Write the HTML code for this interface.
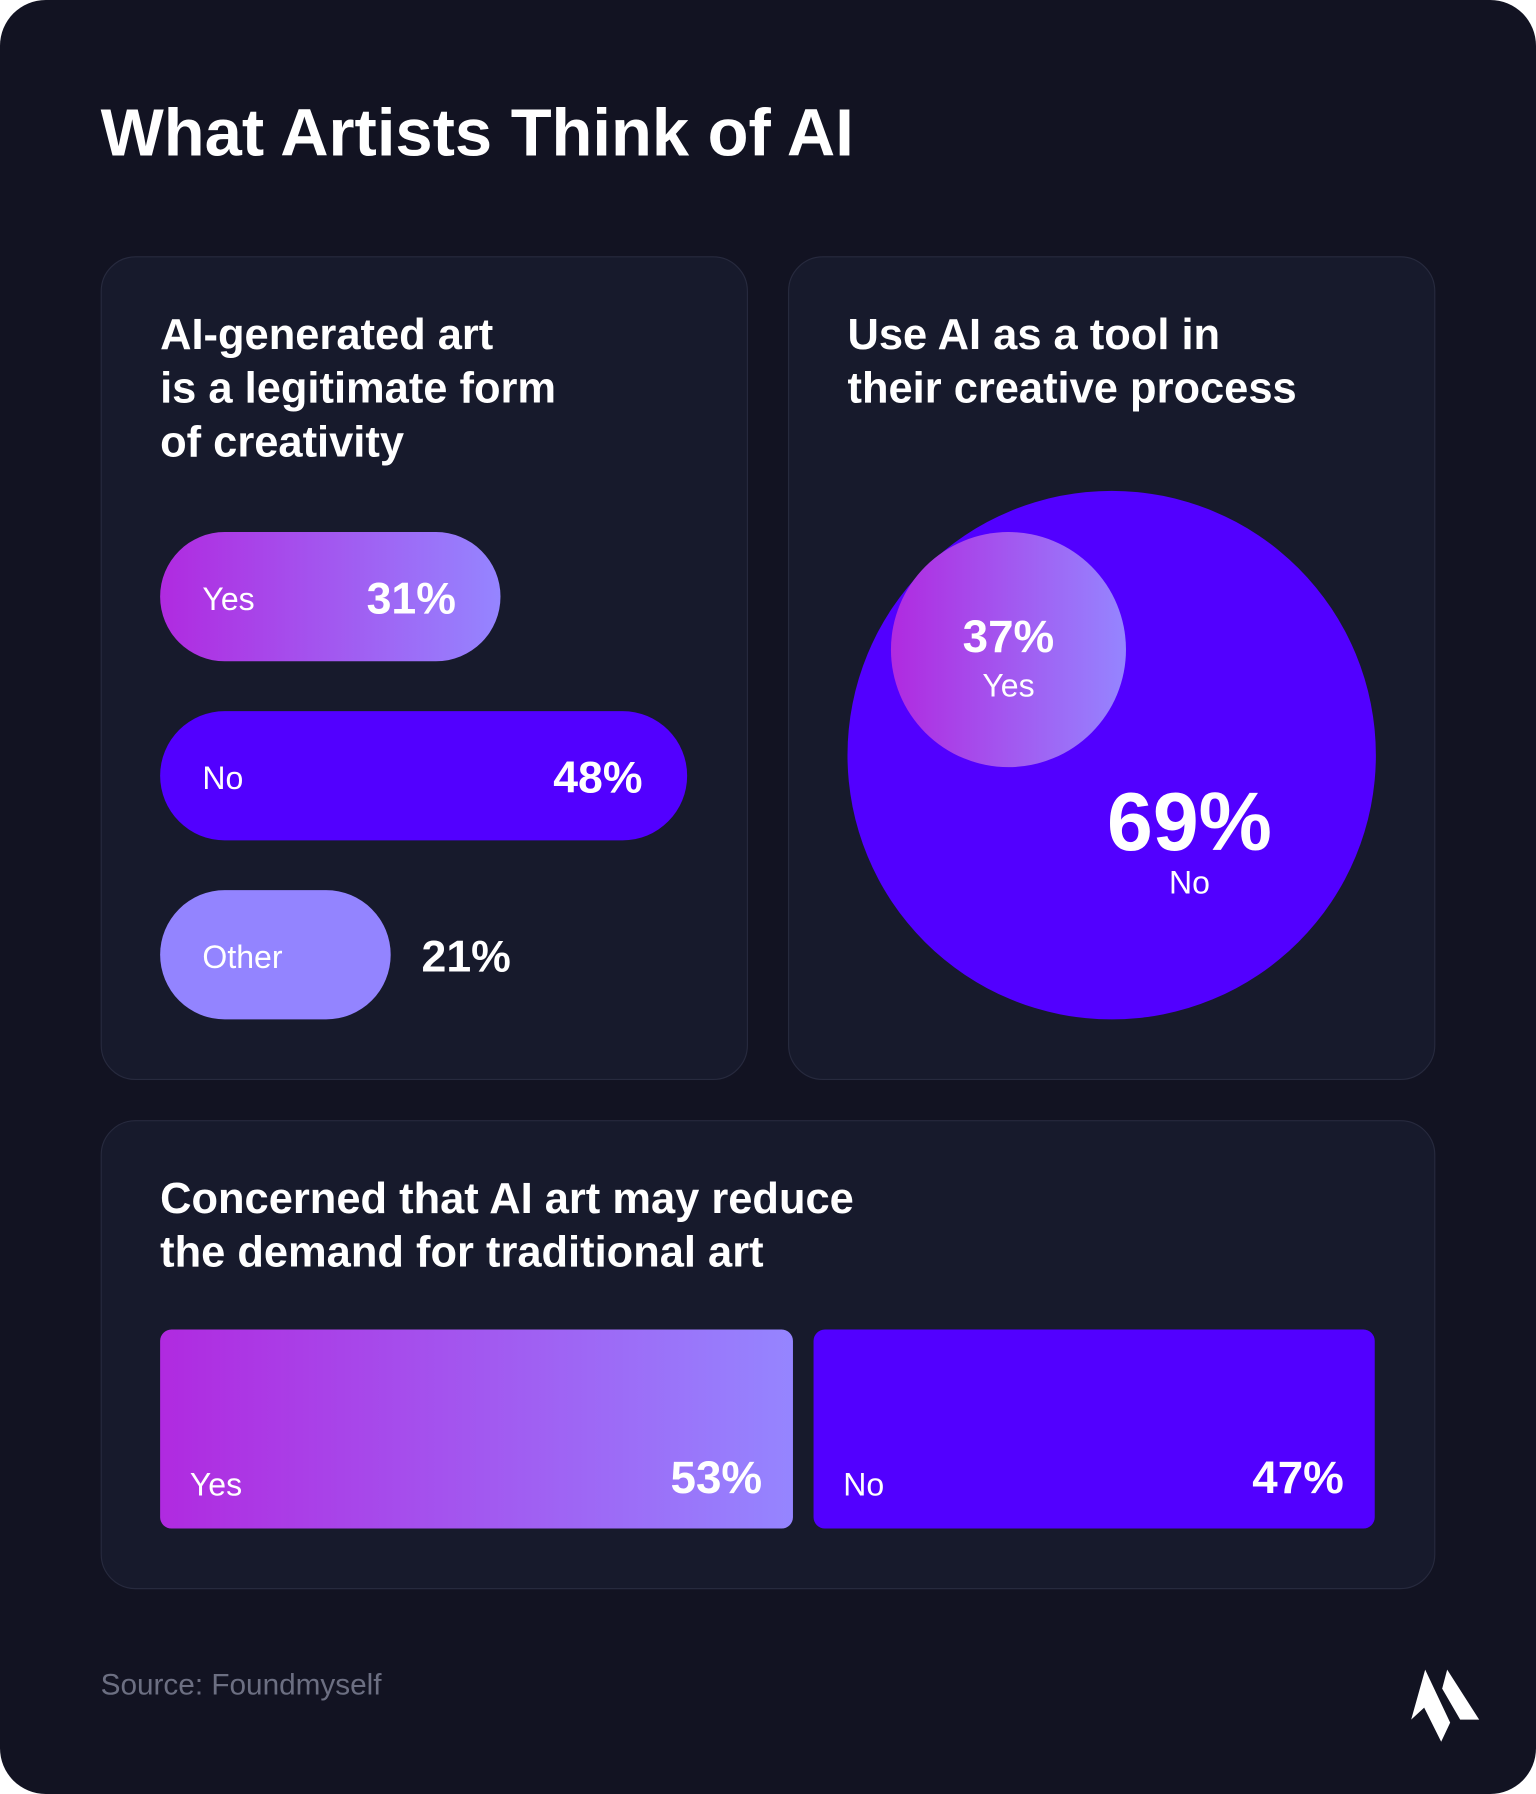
<!DOCTYPE html>
<html><head><meta charset="utf-8"><style>
html,body{margin:0;padding:0;background:#fff;}
svg{display:block;font-family:"Liberation Sans",sans-serif;}
</style></head><body>
<svg id="chart" width="1536" height="1794" viewBox="0 0 1343 1568" preserveAspectRatio="none">
<defs>
<linearGradient id="grad" x1="0" y1="0" x2="1" y2="0">
<stop offset="0" stop-color="#b02ae0"/><stop offset="1" stop-color="#9585ff"/>
</linearGradient>
</defs>
<rect x="0" y="0" width="1343" height="1568" rx="40" fill="#121322"/>
<text x="88" y="136" font-size="58.5" font-weight="bold" fill="#fff">What Artists Think of AI</text>

<rect x="88.5" y="224.5" width="565" height="719" rx="30" fill="#171a2c" stroke="#272a3e"/>
<rect x="689.5" y="224.5" width="565" height="719" rx="30" fill="#171a2c" stroke="#272a3e"/>
<rect x="88.5" y="979.5" width="1166" height="409" rx="30" fill="#171a2c" stroke="#272a3e"/>

<g font-size="38" font-weight="bold" fill="#fff">
<text x="140" y="305"><tspan x="140">AI-generated art</tspan><tspan x="140" dy="47">is a legitimate form</tspan><tspan x="140" dy="47">of creativity</tspan></text>
<text x="741" y="305"><tspan x="741">Use AI as a tool in</tspan><tspan x="741" dy="47">their creative process</tspan></text>
<text x="140" y="1060"><tspan x="140">Concerned that AI art may reduce</tspan><tspan x="140" dy="47">the demand for traditional art</tspan></text>
</g>

<g id="pills"></g>
<g id="bubbles"></g>
<g id="bars"></g>

<text x="88" y="1481" font-size="26" fill="#6c6f82">Source: Foundmyself</text>
<g transform="translate(-6,0) scale(0.87437)" fill="#fff">
<polygon points="1432,1669 1457,1722 1448,1741 1431,1707 1418,1719"/>
<polygon points="1454,1669 1486,1719 1467,1719 1449,1688"/>
</g>
</svg>
<script>
const NS='http://www.w3.org/2000/svg';
const pillLabels=['Yes','No','Other'];
const pillValues=[31,48,21];
const bubbleLabels=['No','Yes'];
const bubbleValues=[69,37];
const barLabels=['Yes','No'];
const barValues=[53,47];

function mk(tag,attrs,parent,txt){const e=document.createElementNS(NS,tag);for(const k in attrs)e.setAttribute(k,attrs[k]);if(txt!==undefined)e.textContent=txt;parent.appendChild(e);return e;}
const fills=['url(#grad)','#5200ff','#9384ff'];

const pg=document.getElementById('pills');
const pxPer=9.6;
pillValues.forEach((v,i)=>{
  const y=465+i*156.5, w=v*pxPer, h=113;
  const r=mk('rect',{x:140,y:y,width:w,height:h,rx:56.5,fill:fills[i]},pg);
  
  
  const l=mk('text',{x:177,y:y+68,'font-size':28,fill:'#fff'},pg,pillLabels[i]);
  
  
  const inside=w>250;
  const t=mk('text',{x:inside?140+w-39:140+w+27,y:y+71,'font-size':39,'font-weight':'bold',fill:'#fff','text-anchor':inside?'end':'start'},pg,v+'%');
  
  
});

const bg=document.getElementById('bubbles');
const rOf=v=>231*Math.pow(v/69,1.3);
const R=rOf(bubbleValues[0]);
const cx0=972, cy0=660;
const big=mk('circle',{cx:cx0,cy:cy0,r:R,fill:'#5200ff'},bg);


const rs=rOf(bubbleValues[1]);
const scx=cx0-R+rs+38, scy=cy0-R+rs+36;
const sm=mk('circle',{cx:scx,cy:scy,r:rs,fill:'url(#grad)'},bg);


const t1=mk('text',{x:scx,y:scy+2,'font-size':40,'font-weight':'bold',fill:'#fff','text-anchor':'middle'},bg,bubbleValues[1]+'%');


const t2=mk('text',{x:scx,y:scy+41,'font-size':28,fill:'#fff','text-anchor':'middle'},bg,bubbleLabels[1]);


const t3=mk('text',{x:1040,y:743,'font-size':72,'font-weight':'bold',fill:'#fff','text-anchor':'middle'},bg,bubbleValues[0]+'%');


const t4=mk('text',{x:1040,y:781,'font-size':28,fill:'#fff','text-anchor':'middle'},bg,bubbleLabels[0]);



const brg=document.getElementById('bars');
const total=barValues.reduce((a,b)=>a+b,0);
const gap=18, avail=1062-gap;
let x=140;
barValues.forEach((v,i)=>{
  const w=avail*v/total;
  const r=mk('rect',{x:x,y:1162,width:w,height:174,rx:10,fill:fills[i]},brg);
  
  
  const l=mk('text',{x:x+26,y:1307,'font-size':28,fill:'#fff'},brg,barLabels[i]);
  
  
  const t=mk('text',{x:x+w-27,y:1305,'font-size':40,'font-weight':'bold',fill:'#fff','text-anchor':'end'},brg,v+'%');
  
  
  x+=w+gap;
});
</script>
</body></html>
